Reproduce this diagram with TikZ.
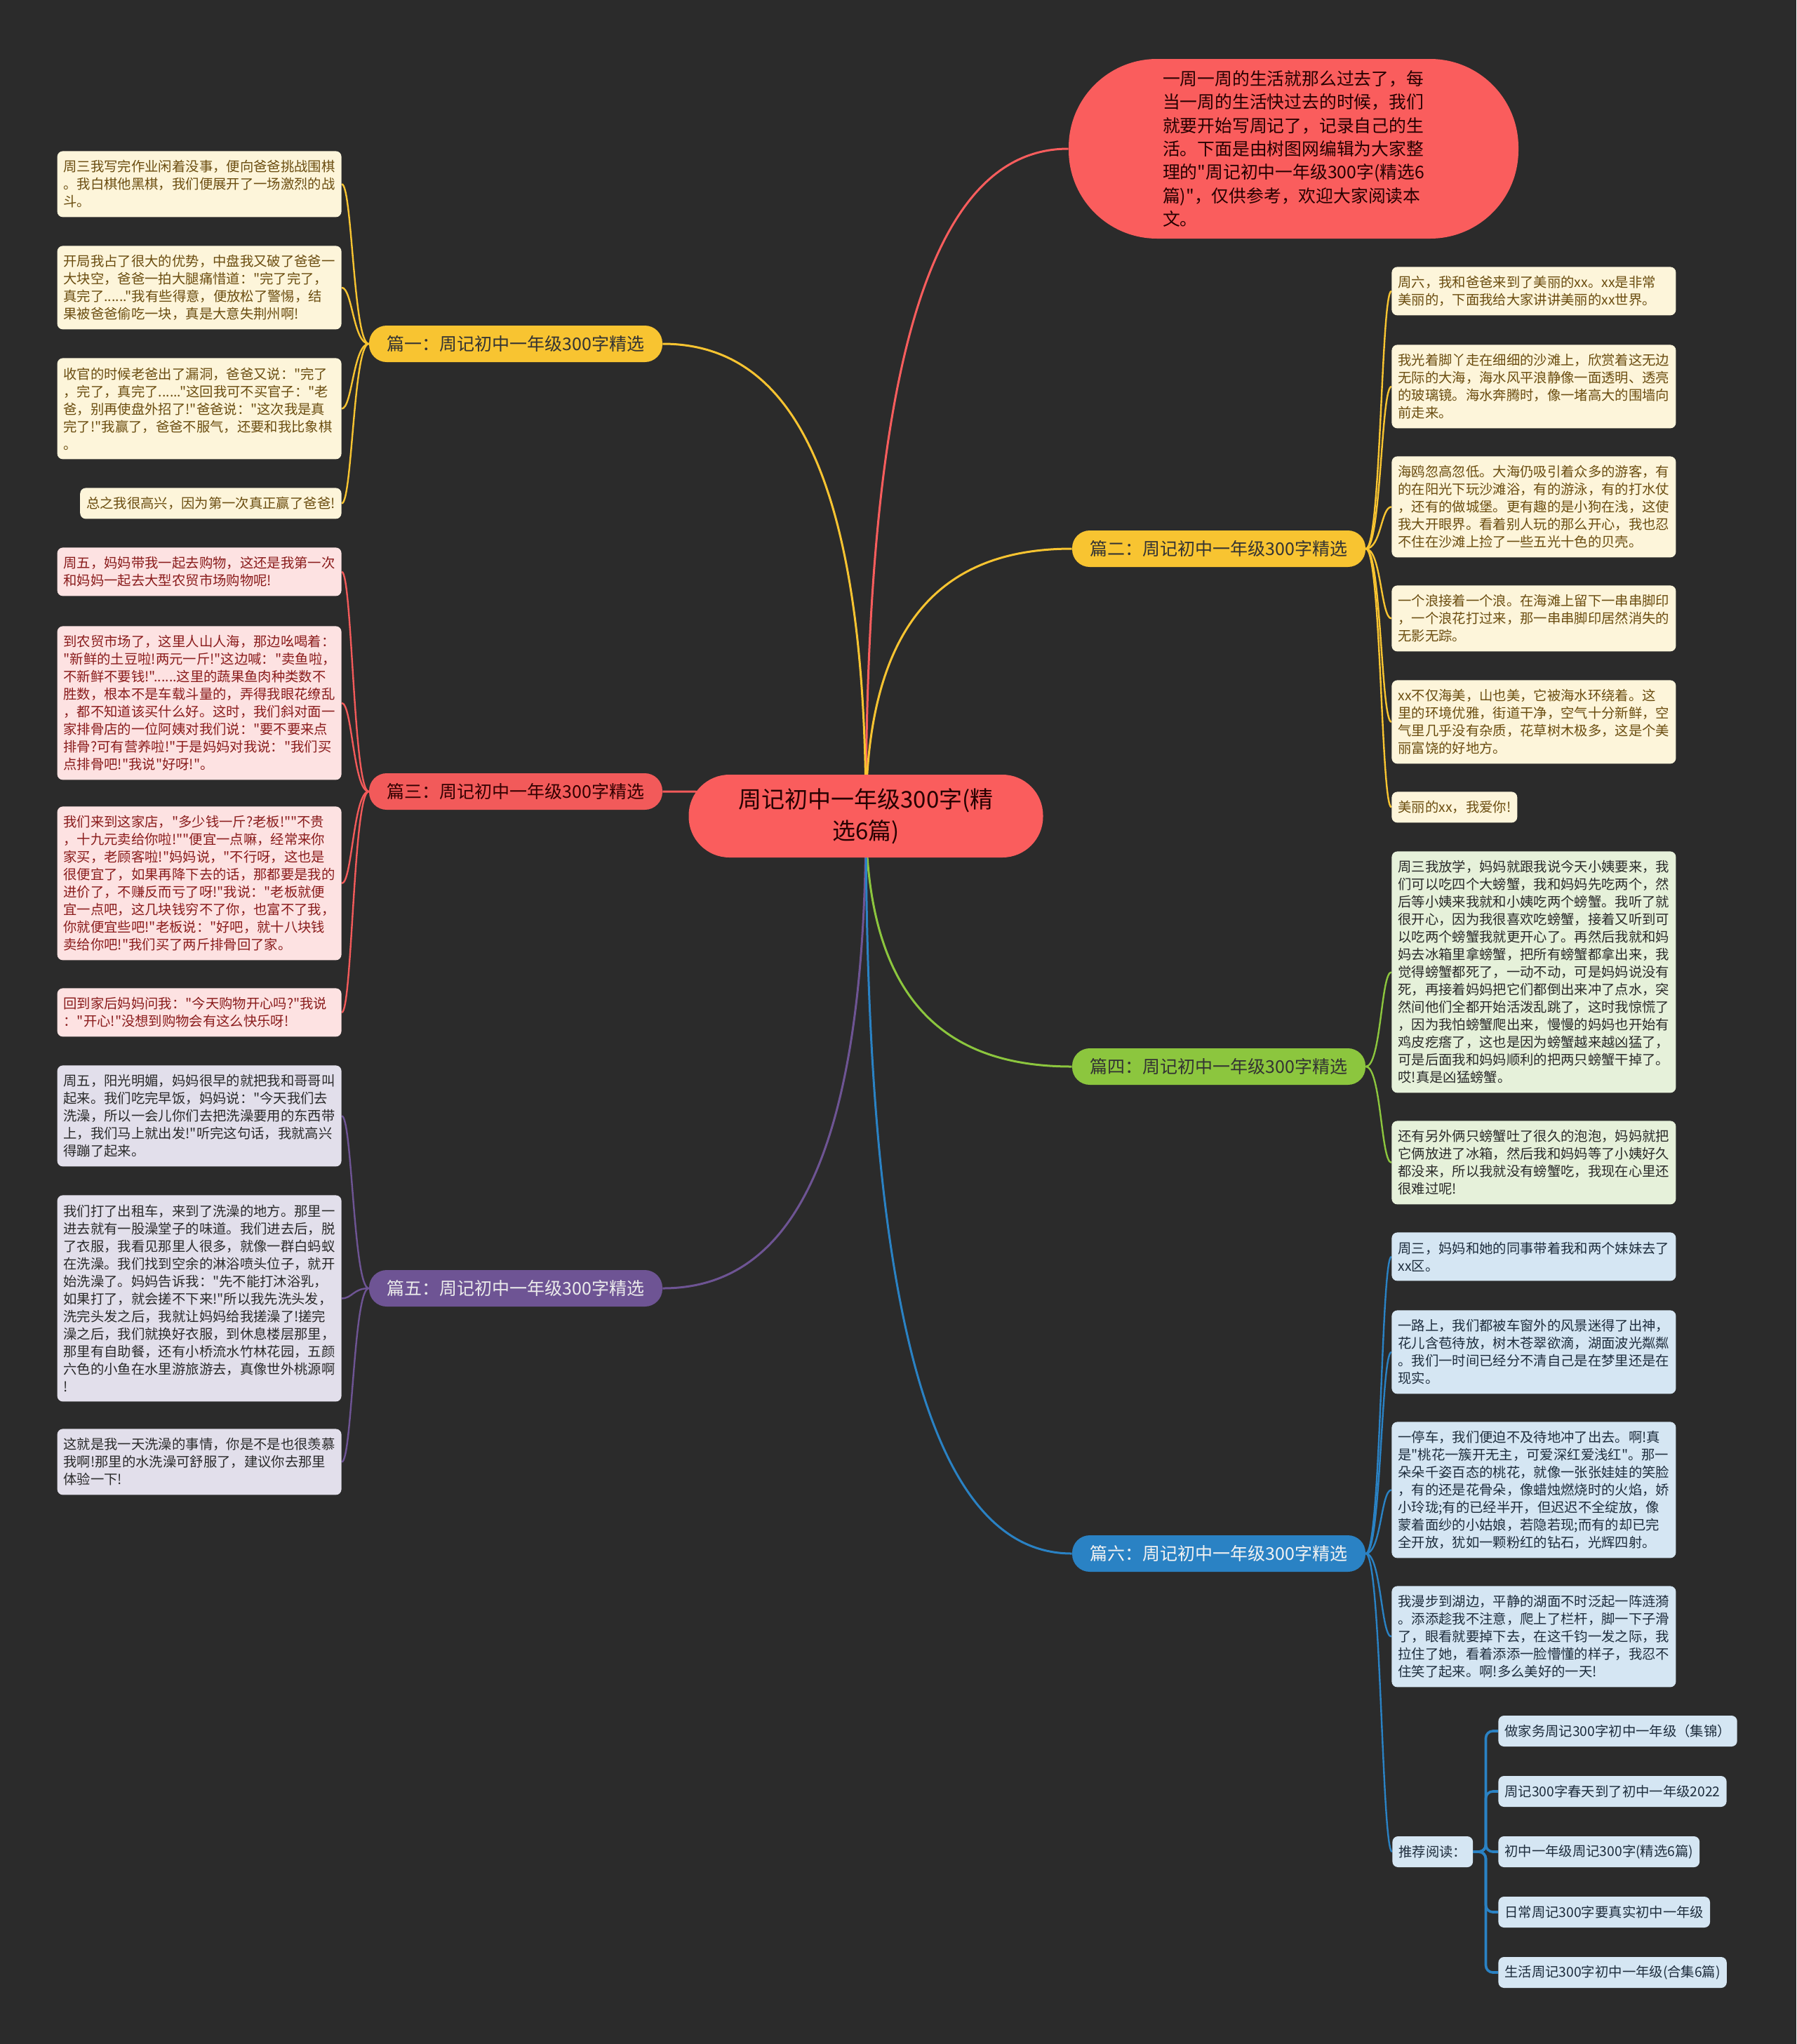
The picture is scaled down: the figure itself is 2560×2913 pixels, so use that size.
\documentclass[tikz,border=0pt]{standalone}
\usepackage{fontspec}
\setmainfont{Noto Sans CJK SC}[Ligatures=TeXOff]
\usetikzlibrary{calc}
\pgfdeclarelayer{bg}
\pgfsetlayers{bg,main}
\definecolor{bgc}{HTML}{2B2B2B}
\definecolor{cred}{HTML}{FA5D5D}
\definecolor{cyel}{HTML}{F8C431}
\definecolor{cred3}{HTML}{F25A5A}
\definecolor{cgrn}{HTML}{8CC63E}
\definecolor{cpur}{HTML}{6E5494}
\definecolor{cblu}{HTML}{2A82C4}
\definecolor{lyf}{HTML}{FDF5DA}\definecolor{lyt}{HTML}{6B4D10}
\definecolor{lpf}{HTML}{FDE2E2}\definecolor{lpt}{HTML}{8A1C1C}
\definecolor{llf}{HTML}{E2DFEB}\definecolor{llt}{HTML}{2A2A2A}
\definecolor{lgf}{HTML}{E6F1DA}\definecolor{lgt}{HTML}{2A2A2A}
\definecolor{lbf}{HTML}{D5E6F3}\definecolor{lbt}{HTML}{1E2D3D}
\newcommand\mmline[3]{\draw[#1] (#2) .. controls ($(#2)!0.75!(#2 |- #3)$) and ($(#3)!0.6!(#2 |- #3)$) .. (#3);}
\newcommand\lfline[3]{\draw[#1] (#2) .. controls +(-22,0) and +(15,0) .. (#3);}
\newcommand\rtline[3]{\draw[#1] (#2) .. controls +(22,0) and +(-15,0) .. (#3);}
\begin{document}
\begin{tikzpicture}[x=0.5pt,y=-0.5pt,
  leaf/.style={rounded corners=4pt, inner xsep=4.5pt, inner ysep=3pt,
    font=\fontsize{9.67}{12.5}\selectfont, align=left},
  leafw/.style={leaf, text width=193.5pt},
  ln1/.style={minimum height=22pt},
  ln2/.style={minimum height=34.5pt},
  ln3/.style={minimum height=47pt},
  ln4/.style={minimum height=59.5pt},
  ln5/.style={minimum height=72pt},
  ln7/.style={minimum height=97pt},
  ln8/.style={minimum height=109.5pt},
  ln11/.style={minimum height=147pt},
  ln13/.style={minimum height=172pt},
  ly/.style={fill=lyf, text=lyt},
  lp/.style={fill=lpf, text=lpt},
  ll/.style={fill=llf, text=llt},
  lg/.style={fill=lgf, text=lgt},
  lb/.style={fill=lbf, text=lbt},
  branch/.style={rounded corners=12.5pt, minimum width=209pt, minimum height=26pt,
    inner sep=0pt, font=\fontsize{12.5}{15}\selectfont},
  conn/.style={line width=1.5pt},
  lconn/.style={line width=1.2pt},
]
\begin{pgfonlayer}{bg}
\fill[bgc] (0,0) rectangle (2560,2913);
\end{pgfonlayer}
\useasboundingbox (0,0) rectangle (2560,2913);

% center and intro
\node[fill=cred, text=black!85!red, rounded corners=29pt, minimum width=252.5pt,
  minimum height=59pt, align=center, font=\fontsize{16.5}{22.3}\selectfont] (c) at (1234,1163)
  {周记初中一年级300字(精\\选6篇)};
\node[fill=cred, text=black!85!red, rounded corners=63pt, minimum width=320.5pt,
  minimum height=128pt, align=left, font=\fontsize{12.4}{16.7}\selectfont] (intro) at (1843.5,212)
  {一周一周的生活就那么过去了，每\\当一周的生活快过去的时候，我们\\就要开始写周记了，记录自己的生\\活。下面是由树图网编辑为大家整\\理的"周记初中一年级300字(精选6\\篇)"，仅供参考，欢迎大家阅读本\\文。};

% branches
\node[branch, fill=cyel, text=black!80] (b1) at (735,490) {篇一：周记初中一年级300字精选};
\node[branch, fill=cyel, text=black!80] (b2) at (1737,782) {篇二：周记初中一年级300字精选};
\node[branch, fill=cred3, text=black!80!red] (b3) at (735,1128) {篇三：周记初中一年级300字精选};
\node[branch, fill=cgrn, text=black!80] (b4) at (1737,1520) {篇四：周记初中一年级300字精选};
\node[branch, fill=cpur, text=white!92!black] (b5) at (735,1836) {篇五：周记初中一年级300字精选};
\node[branch, fill=cblu, text=white!95!black] (b6) at (1737,2214) {篇六：周记初中一年级300字精选};

% 篇一 leaves
\node[leafw, ly, ln3, anchor=north east] (l1a) at (487,215)
  {周三我写完作业闲着没事，便向爸爸挑战围棋\\。我白棋他黑棋，我们便展开了一场激烈的战\\斗。};
\node[leafw, ly, ln4, anchor=north east] (l1b) at (487,350)
  {开局我占了很大的优势，中盘我又破了爸爸一\\大块空，爸爸一拍大腿痛惜道："完了完了，\\真完了......"我有些得意，便放松了警惕，结\\果被爸爸偷吃一块，真是大意失荆州啊!};
\node[leafw, ly, ln5, anchor=north east] (l1c) at (487,510)
  {收官的时候老爸出了漏洞，爸爸又说："完了\\，完了，真完了......"这回我可不买官子："老\\爸，别再使盘外招了!"爸爸说："这次我是真\\完了!"我赢了，爸爸不服气，还要和我比象棋\\。};
\node[leaf, ly, ln1, anchor=north east] (l1d) at (487,695)
  {总之我很高兴，因为第一次真正赢了爸爸!};

% 篇三 leaves
\node[leafw, lp, ln2, anchor=north east] (l3a) at (487,780)
  {周五，妈妈带我一起去购物，这还是我第一次\\和妈妈一起去大型农贸市场购物呢!};
\node[leafw, lp, ln8, anchor=north east] (l3b) at (487,892)
  {到农贸市场了，这里人山人海，那边吆喝着：\\"新鲜的土豆啦!两元一斤!"这边喊："卖鱼啦，\\不新鲜不要钱!"......这里的蔬果鱼肉种类数不\\胜数，根本不是车载斗量的，弄得我眼花缭乱\\，都不知道该买什么好。这时，我们斜对面一\\家排骨店的一位阿姨对我们说："要不要来点\\排骨?可有营养啦!"于是妈妈对我说："我们买\\点排骨吧!"我说"好呀!"。};
\node[leafw, lp, ln8, anchor=north east] (l3c) at (487,1149)
  {我们来到这家店，"多少钱一斤?老板!""不贵\\，十九元卖给你啦!""便宜一点嘛，经常来你\\家买，老顾客啦!"妈妈说，"不行呀，这也是\\很便宜了，如果再降下去的话，那都要是我的\\进价了，不赚反而亏了呀!"我说："老板就便\\宜一点吧，这几块钱穷不了你，也富不了我，\\你就便宜些吧!"老板说："好吧，就十八块钱\\卖给你吧!"我们买了两斤排骨回了家。};
\node[leafw, lp, ln2, anchor=north east] (l3d) at (487,1408)
  {回到家后妈妈问我："今天购物开心吗?"我说\\："开心!"没想到购物会有这么快乐呀!};

% 篇五 leaves
\node[leafw, ll, ln5, anchor=north east] (l5a) at (487,1518)
  {周五，阳光明媚，妈妈很早的就把我和哥哥叫\\起来。我们吃完早饭，妈妈说："今天我们去\\洗澡，所以一会儿你们去把洗澡要用的东西带\\上，我们马上就出发!"听完这句话，我就高兴\\得蹦了起来。};
\node[leafw, ll, ln11, anchor=north east] (l5b) at (487,1703)
  {我们打了出租车，来到了洗澡的地方。那里一\\进去就有一股澡堂子的味道。我们进去后，脱\\了衣服，我看见那里人很多，就像一群白蚂蚁\\在洗澡。我们找到空余的淋浴喷头位子，就开\\始洗澡了。妈妈告诉我："先不能打沐浴乳，\\如果打了，就会搓不下来!"所以我先洗头发，\\洗完头发之后，我就让妈妈给我搓澡了!搓完\\澡之后，我们就换好衣服，到休息楼层那里，\\那里有自助餐，还有小桥流水竹林花园，五颜\\六色的小鱼在水里游旅游去，真像世外桃源啊\\!};
\node[leafw, ll, ln3, anchor=north east] (l5c) at (487,2036)
  {这就是我一天洗澡的事情，你是不是也很羡慕\\我啊!那里的水洗澡可舒服了，建议你去那里\\体验一下!};

% 篇二 leaves
\node[leafw, ly, ln2, anchor=north west] (r2a) at (1983,380)
  {周六，我和爸爸来到了美丽的xx。xx是非常\\美丽的，下面我给大家讲讲美丽的xx世界。};
\node[leafw, ly, ln4, anchor=north west] (r2b) at (1983,491)
  {我光着脚丫走在细细的沙滩上，欣赏着这无边\\无际的大海，海水风平浪静像一面透明、透亮\\的玻璃镜。海水奔腾时，像一堵高大的围墙向\\前走来。};
\node[leafw, ly, ln5, anchor=north west] (r2c) at (1983,650)
  {海鸥忽高忽低。大海仍吸引着众多的游客，有\\的在阳光下玩沙滩浴，有的游泳，有的打水仗\\，还有的做城堡。更有趣的是小狗在浅，这使\\我大开眼界。看着别人玩的那么开心，我也忍\\不住在沙滩上捡了一些五光十色的贝壳。};
\node[leafw, ly, ln3, anchor=north west] (r2d) at (1983,834)
  {一个浪接着一个浪。在海滩上留下一串串脚印\\，一个浪花打过来，那一串串脚印居然消失的\\无影无踪。};
\node[leafw, ly, ln4, anchor=north west] (r2e) at (1983,969)
  {xx不仅海美，山也美，它被海水环绕着。这\\里的环境优雅，街道干净，空气十分新鲜，空\\气里几乎没有杂质，花草树木极多，这是个美\\丽富饶的好地方。};
\node[leaf, ly, ln1, anchor=north west] (r2f) at (1983,1128)
  {美丽的xx，我爱你!};

% 篇四 leaves
\node[leafw, lg, ln13, anchor=north west] (r4a) at (1983,1213)
  {周三我放学，妈妈就跟我说今天小姨要来，我\\们可以吃四个大螃蟹，我和妈妈先吃两个，然\\后等小姨来我就和小姨吃两个螃蟹。我听了就\\很开心，因为我很喜欢吃螃蟹，接着又听到可\\以吃两个螃蟹我就更开心了。再然后我就和妈\\妈去冰箱里拿螃蟹，把所有螃蟹都拿出来，我\\觉得螃蟹都死了，一动不动，可是妈妈说没有\\死，再接着妈妈把它们都倒出来冲了点水，突\\然间他们全都开始活泼乱跳了，这时我惊慌了\\，因为我怕螃蟹爬出来，慢慢的妈妈也开始有\\鸡皮疙瘩了，这也是因为螃蟹越来越凶猛了，\\可是后面我和妈妈顺利的把两只螃蟹干掉了。\\哎!真是凶猛螃蟹。};
\node[leafw, lg, ln4, anchor=north west] (r4b) at (1983,1597)
  {还有另外俩只螃蟹吐了很久的泡泡，妈妈就把\\它俩放进了冰箱，然后我和妈妈等了小姨好久\\都没来，所以我就没有螃蟹吃，我现在心里还\\很难过呢!};

% 篇六 leaves
\node[leafw, lb, ln2, anchor=north west] (r6a) at (1983,1756)
  {周三，妈妈和她的同事带着我和两个妹妹去了\\xx区。};
\node[leafw, lb, ln4, anchor=north west] (r6b) at (1983,1867)
  {一路上，我们都被车窗外的风景迷得了出神，\\花儿含苞待放，树木苍翠欲滴，湖面波光粼粼\\。我们一时间已经分不清自己是在梦里还是在\\现实。};
\node[leafw, lb, ln7, anchor=north west] (r6c) at (1983,2026)
  {一停车，我们便迫不及待地冲了出去。啊!真\\是"桃花一簇开无主，可爱深红爱浅红"。那一\\朵朵千姿百态的桃花，就像一张张娃娃的笑脸\\，有的还是花骨朵，像蜡烛燃烧时的火焰，娇\\小玲珑;有的已经半开，但迟迟不全绽放，像\\蒙着面纱的小姑娘，若隐若现;而有的却已完\\全开放，犹如一颗粉红的钻石，光辉四射。};
\node[leafw, lb, ln5, anchor=north west] (r6d) at (1983,2260)
  {我漫步到湖边，平静的湖面不时泛起一阵涟漪\\。添添趁我不注意，爬上了栏杆，脚一下子滑\\了，眼看就要掉下去，在这千钧一发之际，我\\拉住了她，看着添添一脸懵懂的样子，我忍不\\住笑了起来。啊!多么美好的一天!};
\node[leaf, lb, ln1, anchor=west] (rd) at (1984,2639) {推荐阅读：};
\node[leaf, lb, ln1, anchor=west] (s1) at (2135,2467) {做家务周记300字初中一年级（集锦）};
\node[leaf, lb, ln1, anchor=west] (s2) at (2135,2553) {周记300字春天到了初中一年级2022};
\node[leaf, lb, ln1, anchor=west] (s3) at (2135,2639) {初中一年级周记300字(精选6篇)};
\node[leaf, lb, ln1, anchor=west] (s4) at (2135,2725) {日常周记300字要真实初中一年级};
\node[leaf, lb, ln1, anchor=west] (s5) at (2135,2811) {生活周记300字初中一年级(合集6篇)};

% connectors
\begin{pgfonlayer}{bg}
\mmline{conn, cred}{c.center}{intro.west}
\mmline{conn, cyel}{c.center}{b1.east}
\mmline{conn, cyel}{c.center}{b2.west}
\mmline{conn, cred3}{c.center}{b3.east}
\mmline{conn, cgrn}{c.center}{b4.west}
\mmline{conn, cpur}{c.center}{b5.east}
\mmline{conn, cblu}{c.center}{b6.west}
\foreach \n in {l1a,l1b,l1c,l1d} {\lfline{lconn, cyel}{b1.west}{\n.east}}
\foreach \n in {l3a,l3b,l3c,l3d} {\lfline{lconn, cred3}{b3.west}{\n.east}}
\foreach \n in {l5a,l5b,l5c} {\lfline{lconn, cpur}{b5.west}{\n.east}}
\foreach \n in {r2a,r2b,r2c,r2d,r2e,r2f} {\rtline{lconn, cyel}{b2.east}{\n.west}}
\foreach \n in {r4a,r4b} {\rtline{lconn, cgrn}{b4.east}{\n.west}}
\foreach \n in {r6a,r6b,r6c,r6d,rd} {\rtline{lconn, cblu}{b6.east}{\n.west}}
\foreach \n in {s1,s2,s3,s4,s5} {\draw[line width=1.8pt, cblu, rounded corners=5pt] (rd.east) -- ++(18,0) |- (\n.west);}
\end{pgfonlayer}
\end{tikzpicture}
\end{document}
